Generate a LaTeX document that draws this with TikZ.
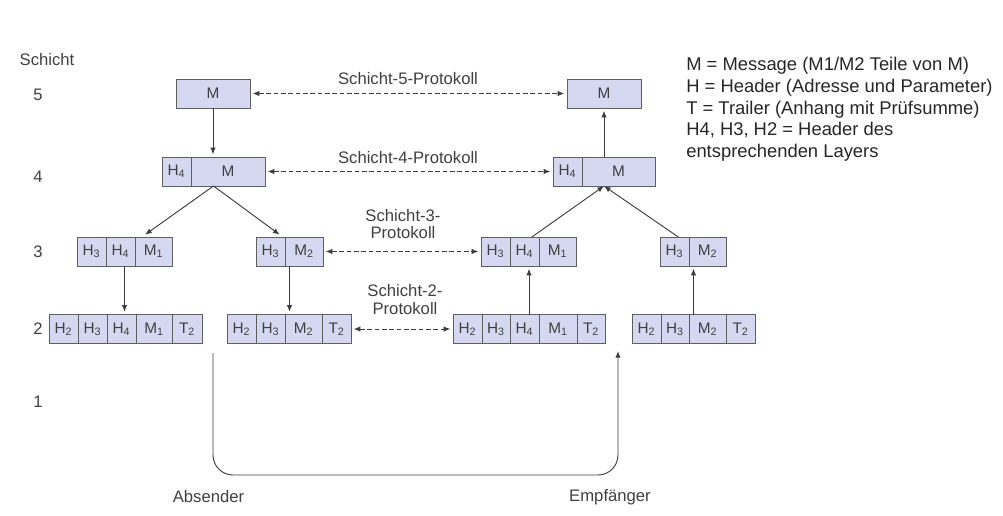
\documentclass[tikz,border=0pt]{standalone}
\usepackage{fontspec}
\setmainfont{Liberation Sans}
\usetikzlibrary{positioning,fit,arrows.meta}

\definecolor{boxfill}{RGB}{214,216,242}
\definecolor{boxline}{RGB}{95,95,95}
\definecolor{textgray}{RGB}{64,64,64}
\definecolor{arrowgray}{RGB}{60,60,60}

% one packet: name, west point, cells as label/width in px
\newcommand{\packet}[3]{%
  \foreach \lab/\w [count=\i] in {#3} {
    \ifnum\i=1
      \node[pcell, minimum width=\w*0.75pt, anchor=west] (#1-\i) at #2 {\lab};
    \else
      \pgfmathtruncatemacro{\prev}{\i-1}
      \node[pcell, minimum width=\w*0.75pt, right=0pt of #1-\prev] (#1-\i) {\lab};
    \fi
    \node[fit=(#1-1)(#1-\i), inner sep=0pt, outer sep=0pt] (#1) {};
  }
}

\begin{document}
\begin{tikzpicture}[x=0.75pt, y=-0.75pt,
    pcell/.style={draw=boxline, fill=boxfill, line width=0.7pt, minimum height=21.75pt,
      inner sep=0pt, outer sep=0pt, font=\fontsize{11.5}{12}\selectfont, text=textgray},
    lbl/.style={font=\fontsize{12.5}{13}\selectfont, text=textgray, inner sep=0pt, align=center},
    arr/.style={draw=arrowgray, line width=0.7pt, -{Latex[length=5pt,width=4pt]}},
    proto/.style={arr, dash pattern=on 3.5pt off 2pt, {Latex[length=5pt,width=4pt]}-{Latex[length=5pt,width=4pt]},
      shorten <=2pt, shorten >=2pt}]
    \useasboundingbox (0,0) rectangle (1003,515);

    % layer numbers
    \node[lbl] (head) at (47,60) {Schicht};
    \foreach \y/\n in {95/5, 177/4, 252/3, 329/2, 402/1} {
        \node[lbl] (row\n) at (38,\y) {\n};
    }

    % packets on both sides
    \packet{l5a}{(176,93.5)}{M/74}
    \packet{l5b}{(567,93.5)}{M/74}
    \packet{l4a}{(162,171.5)}{H\textsubscript{4}/29,M/74}
    \packet{l4b}{(553,171.5)}{H\textsubscript{4}/29,M/73}
    \packet{l3a}{(77,251.5)}{H\textsubscript{3}/29,H\textsubscript{4}/29,M\textsubscript{1}/37}
    \packet{l3b}{(256,251.5)}{H\textsubscript{3}/29,M\textsubscript{2}/38}
    \packet{l3c}{(481,251.5)}{H\textsubscript{3}/29,H\textsubscript{4}/29,M\textsubscript{1}/37}
    \packet{l3d}{(660,251.5)}{H\textsubscript{3}/29,M\textsubscript{2}/37}
    \packet{l2a}{(49,329)}{H\textsubscript{2}/29,H\textsubscript{3}/29,H\textsubscript{4}/29,M\textsubscript{1}/36,T\textsubscript{2}/30}
    \packet{l2b}{(227,329)}{H\textsubscript{2}/29,H\textsubscript{3}/29,M\textsubscript{2}/37,T\textsubscript{2}/29}
    \packet{l2c}{(453,329)}{H\textsubscript{2}/29,H\textsubscript{3}/28,H\textsubscript{4}/29,M\textsubscript{1}/38,T\textsubscript{2}/28}
    \packet{l2d}{(632,329)}{H\textsubscript{2}/29,H\textsubscript{3}/28,M\textsubscript{2}/37,T\textsubscript{2}/29}

    % sender goes down
    \draw[arr, shorten >=2pt] (l5a.south) -- (l5a.south |- l4a.north);
    \draw[arr, shorten >=3pt] (l4a.south) -- ([xshift=13pt]l3a.north);
    \draw[arr, shorten >=3pt] (l4a.south) -- ([xshift=-5pt]l3b.north);
    \draw[arr, shorten >=2pt] (l3a.south) -- (l3a.south |- l2a.north);
    \draw[arr, shorten >=2pt] (l3b.south) -- (l3b.south |- l2b.north);

    % receiver goes up
    \draw[arr, shorten >=2pt] (l4b.north) -- (l4b.north |- l5b.south);
    \draw[arr] ([xshift=2.5pt]l3c.north) -- (l4b.south);
    \draw[arr] ([xshift=-11pt]l3d.north) -- (l4b.south);
    \draw[arr, shorten >=2pt] (l2c.north) -- (l2c.north |- l3c.south);
    \draw[arr, shorten >=2pt] (l2d.north) -- (l2d.north |- l3d.south);

    % peer protocols
    \draw[proto] (l5a) -- (l5b);
    \draw[proto] (l4a) -- (l4b);
    \draw[proto] (l3b) -- (l3c);
    \draw[proto] (l2b) -- (l2c);
    \node[lbl] (p5) at (408,79) {Schicht-5-Protokoll};
    \node[lbl] (p4) at (408,158) {Schicht-4-Protokoll};
    \node[lbl] (p3) at (403,224) {Schicht-3-\\Protokoll};
    \node[lbl] (p2) at (405,299.5) {Schicht-2-\\Protokoll};

    % physical path
    \coordinate (snd) at (213,353);
    \coordinate (rcv) at (618,351);
    \coordinate (wire) at (415,475);
    \draw[arr, rounded corners=15pt] (snd) |- (wire) -| (rcv);
    \node[lbl] (sender) at (208.5,497) {Absender};
    \node[lbl] (receiver) at (610,497) {Empfänger};

    % legend
    \node[anchor=north west, align=left, inner sep=0pt, text=black!85,
        font=\fontsize{13.8}{16.3}\selectfont] (key) at (686,57)
        {M = Message (M1/M2 Teile von M)\\
         H = Header (Adresse und Parameter)\\
         T = Trailer (Anhang mit Prüfsumme)\\
         H4, H3, H2 = Header des\\
         entsprechenden Layers};
\end{tikzpicture}
\end{document}
